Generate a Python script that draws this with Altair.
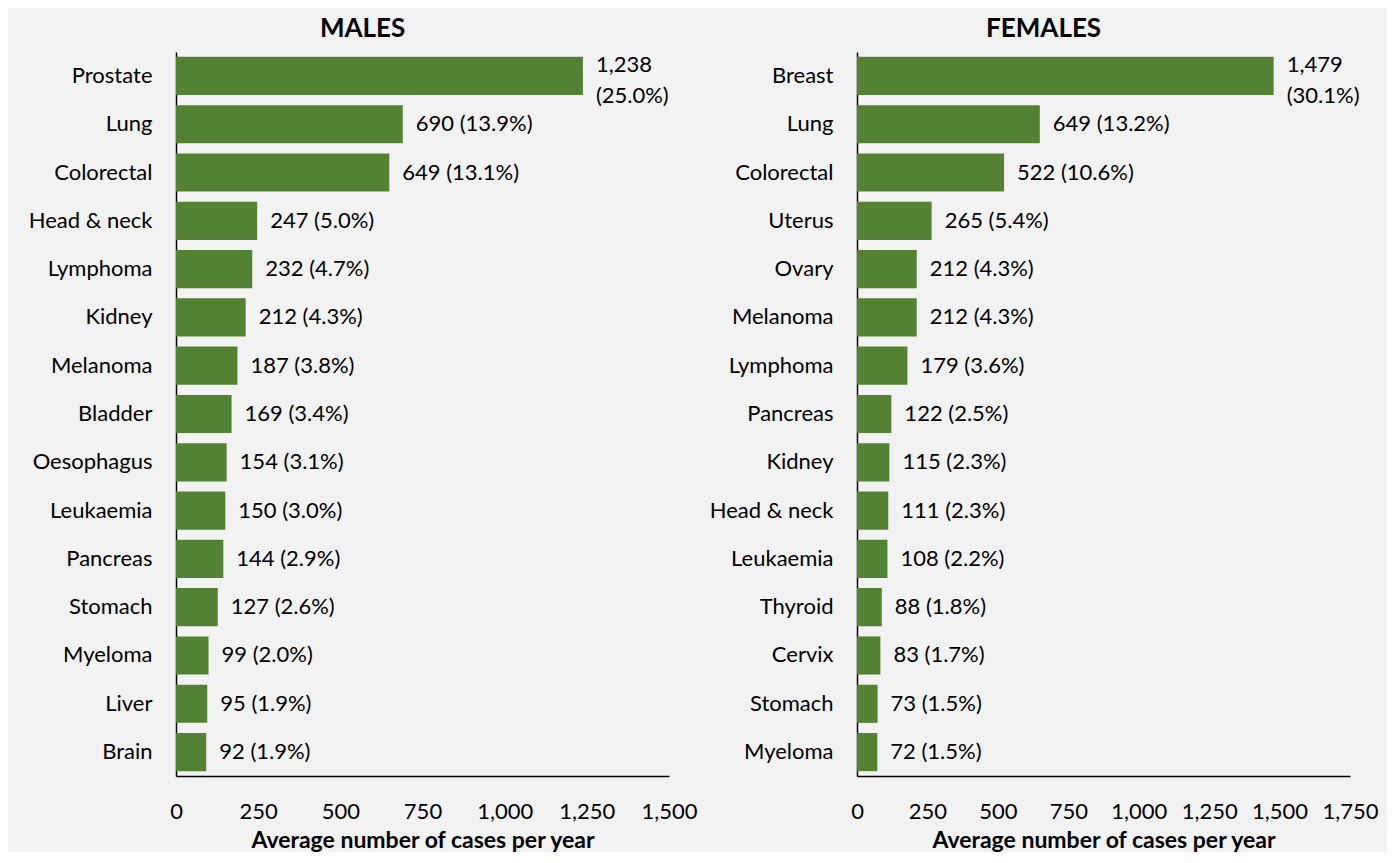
import altair as alt
import pandas as pd

male_sites = ["Prostate", "Lung", "Colorectal", "Head & neck", "Lymphoma", "Kidney", "Melanoma",
              "Bladder", "Oesophagus", "Leukaemia", "Pancreas", "Stomach", "Myeloma", "Liver", "Brain"]
male_cases = [1238, 690, 649, 247, 232, 212, 187, 169, 154, 150, 144, 127, 99, 95, 92]
male_pct = [25.0, 13.9, 13.1, 5.0, 4.7, 4.3, 3.8, 3.4, 3.1, 3.0, 2.9, 2.6, 2.0, 1.9, 1.9]

female_sites = ["Breast", "Lung", "Colorectal", "Uterus", "Ovary", "Melanoma", "Lymphoma",
                "Pancreas", "Kidney", "Head & neck", "Leukaemia", "Thyroid", "Cervix", "Stomach", "Myeloma"]
female_cases = [1479, 649, 522, 265, 212, 212, 179, 122, 115, 111, 108, 88, 83, 73, 72]
female_pct = [30.1, 13.2, 10.6, 5.4, 4.3, 4.3, 3.6, 2.5, 2.3, 2.3, 2.2, 1.8, 1.7, 1.5, 1.5]

male_ticks = [0, 250, 500, 750, 1000, 1250, 1500]
female_ticks = [0, 250, 500, 750, 1000, 1250, 1500, 1750]

FONT = "Lato"
GREEN = "#548235"
FS = 22


def make_label(v, p):
    sep = "\n" if v >= 1000 else " "
    return f"{v:,}{sep}({p:.1f}%)"


def panel(title, sites, cases, pct, ticks):
    df = pd.DataFrame({
        "site": sites,
        "cases": cases,
        "label": [make_label(v, p) for v, p in zip(cases, pct)],
    })
    y = alt.Y("site:N", sort=sites, title=None,
              scale=alt.Scale(paddingInner=0.21, paddingOuter=0.1),
              axis=alt.Axis(labelPadding=24, labelFontSize=FS, labelFont=FONT,
                            labelColor="black", ticks=False, domainColor="black",
                            domainWidth=1.5))
    x = alt.X("cases:Q", scale=alt.Scale(domain=[ticks[0], ticks[-1]], nice=False),
              axis=alt.Axis(values=ticks, format=",d", title="Average number of cases per year",
                            labelPadding=25, labelFontSize=FS, labelFont=FONT, labelColor="black",
                            ticks=False, grid=False, domainColor="black", domainWidth=1.5,
                            titleFont=FONT, titleFontSize=23, titleFontWeight="bold",
                            titleColor="black", titlePadding=7, labelFlush=False))
    base = alt.Chart(df)
    bars = base.mark_bar(color=GREEN).encode(y=y, x=x)
    ty = alt.Y("site:N", sort=sites)
    text1 = base.transform_filter("datum.cases < 1000").mark_text(
        align="left", baseline="middle", dx=13, font=FONT, fontSize=FS, color="black"
    ).encode(y=ty, x=alt.X("cases:Q"), text="label:N")
    text2 = base.transform_filter("datum.cases >= 1000").mark_text(
        align="left", baseline="middle", dx=13, dy=-11, lineBreak="\n", lineHeight=31,
        font=FONT, fontSize=FS, color="black"
    ).encode(y=ty, x=alt.X("cases:Q"), text="label:N")
    return alt.layer(bars, text1, text2).properties(
        width=493, height=724,
        title=alt.TitleParams(title, font=FONT, fontSize=26, fontWeight="bold",
                              color="black", anchor="middle", frame="bounds", offset=10))


left = panel("MALES", male_sites, male_cases, male_pct, male_ticks)
right = panel("FEMALES", female_sites, female_cases, female_pct, female_ticks)

chart = alt.hconcat(left, right, spacing=188, bounds="flush").properties(
    background="#f2f2f2",
    padding={"left": 20, "top": 8, "right": 8, "bottom": 0},
).configure_view(stroke=None).configure_axis(grid=False)

chart.save("out.html", embed_options={"renderer": "svg", "actions": False})
